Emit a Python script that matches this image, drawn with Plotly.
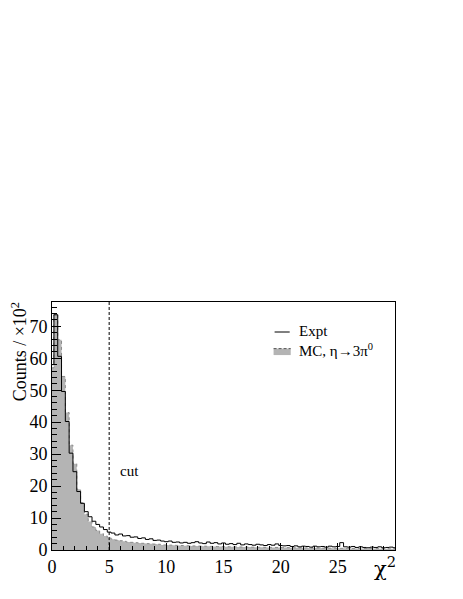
import numpy as np
import plotly.graph_objects as go

# Bin edges: a short first bin, then bins of width 1/3 (chi2 units)
bin_edges = np.concatenate([[0.0], np.arange(1 / 6, 30.2, 1 / 3)])

# Counts in units of 10^2, one value per bin
expt_counts = [
    58, 73.6, 60.6, 49.6, 40.2, 30.3, 24.5, 18.3, 14.6, 12.0,
    10.4, 9.0, 8.0, 7.2, 6.4, 5.6, 5.3, 4.7, 5.0, 4.4,
    4.5, 4.0, 4.1, 3.6, 3.8, 3.3, 3.5, 3.0, 3.1, 2.8,
    2.6, 2.8, 2.4, 2.5, 2.2, 2.4, 2.1, 2.3, 2.6, 2.2,
    2.0, 2.5, 2.1, 2.3, 1.9, 2.2, 1.8, 2.0, 1.7, 2.1,
    1.6, 1.9, 1.7, 1.5, 1.8, 1.6, 1.4, 1.7, 1.5, 1.9,
    1.4, 1.3, 1.4, 1.1, 1.3, 1.0, 1.2, 1.1, 0.9, 1.2,
    1.0, 1.1, 0.9, 1.2, 1.0, 1.1, 2.3, 1.0, 0.9, 1.1,
    0.8, 1.0, 0.8, 0.7, 0.9, 0.8, 1.0, 0.7, 0.8, 0.9,
    0.7,
]

mc_counts = [
    57, 73.8, 65.8, 54.3, 43.0, 32.8, 27.0, 19.0, 14.8, 11.2,
    8.9, 7.2, 6.1, 5.1, 4.4, 3.8, 3.4, 3.1, 2.9, 2.7,
    2.5, 2.4, 2.3, 2.2, 2.1, 2.0, 1.95, 1.85, 1.8, 1.6,
    1.58, 1.52, 1.48, 1.44, 1.4, 1.36, 1.32, 1.28, 1.25, 1.22,
    1.19, 1.16, 1.13, 1.1, 1.07, 1.05, 1.02, 1.0, 0.98, 0.96,
    0.94, 0.92, 0.9, 0.88, 0.86, 0.85, 0.83, 0.82, 0.81, 0.8,
    0.78, 0.76, 0.74, 0.72, 0.7, 0.69, 0.67, 0.66, 0.64, 0.63,
    0.62, 0.6, 0.59, 0.57, 0.55, 0.54, 0.53, 0.52, 0.51, 0.5,
    0.49, 0.48, 0.47, 0.46, 0.45, 0.44, 0.43, 0.42, 0.41, 0.4,
    0.4,
]

x_ticks = [0, 5, 10, 15, 20, 25]
y_ticks = [0, 10, 20, 30, 40, 50, 60, 70]
cut_value = 5

SERIF = "Liberation Serif"

fig = go.Figure()

# MC histogram: grey fill with dotted outline
fig.add_trace(go.Scatter(
    x=bin_edges,
    y=mc_counts + [mc_counts[-1]],
    mode="lines",
    line=dict(shape="hv", color="#8a8a8a", width=1, dash="dot"),
    fill="tozeroy",
    fillcolor="#b4b4b4",
    showlegend=False,
))

# Experimental histogram: solid black step line
fig.add_trace(go.Scatter(
    x=bin_edges,
    y=expt_counts + [expt_counts[-1]],
    mode="lines",
    line=dict(shape="hv", color="black", width=1),
    showlegend=False,
))

# Cut line
fig.add_shape(
    type="line", xref="x", yref="y domain",
    x0=cut_value, x1=cut_value, y0=0, y1=1,
    line=dict(color="black", width=1, dash="3px,2px"),
)
fig.add_annotation(
    x=5.8, y=24.8, xref="x", yref="y", text="cut", showarrow=False,
    xanchor="left", yanchor="middle", font=dict(family=SERIF, size=15, color="black"),
)

# Hand-drawn legend
fig.add_shape(type="line", xref="paper", yref="paper",
              x0=0.649, x1=0.693, y0=0.879, y1=0.879,
              line=dict(color="black", width=1))
fig.add_shape(type="rect", xref="paper", yref="paper",
              x0=0.646, x1=0.696, y0=0.786, y1=0.812,
              fillcolor="#b4b4b4", line=dict(width=0))
fig.add_shape(type="line", xref="paper", yref="paper",
              x0=0.646, x1=0.696, y0=0.812, y1=0.812,
              line=dict(color="#555555", width=1, dash="3px,2px"))
fig.add_annotation(x=0.713, y=0.885, xref="paper", yref="paper", text="Expt",
                   showarrow=False, xanchor="left", yanchor="middle",
                   font=dict(family=SERIF, size=15, color="black"))
fig.add_annotation(x=0.713, y=0.805, xref="paper", yref="paper",
                   text="MC, η→3π<sup>0</sup>",
                   showarrow=False, xanchor="left", yanchor="middle",
                   font=dict(family=SERIF, size=15, color="black"))

# Axis titles (ROOT style: placed at the end of the axes)
fig.add_annotation(x=-0.096, y=1.005, xref="paper", yref="paper",
                   text="Counts / ×10<sup>2</sup>", textangle=-90,
                   showarrow=False, xanchor="center", yanchor="top",
                   font=dict(family=SERIF, size=18, color="black"))
fig.add_annotation(x=0.972, y=-0.07, xref="paper", yref="paper",
                   text="χ<sup>2</sup>", showarrow=False,
                   xanchor="center", yanchor="middle",
                   font=dict(family="DejaVu Serif", size=21, color="black"))

fig.update_xaxes(
    range=[0, 30], tickvals=x_ticks, ticks="inside", ticklen=7,
    tickcolor="black", tickwidth=1,
    minor=dict(dtick=1, tick0=0, ticks="inside", ticklen=4, tickcolor="black"),
    showline=True, linecolor="black", linewidth=1, mirror=True,
    showgrid=False, zeroline=False,
    tickfont=dict(family=SERIF, size=18, color="black"),
)
fig.update_yaxes(
    range=[0, 77.6], tickvals=y_ticks, ticks="inside", ticklen=9,
    tickcolor="black", tickwidth=1,
    minor=dict(dtick=2, tick0=0, ticks="inside", ticklen=5, tickcolor="black"),
    showline=True, linecolor="black", linewidth=1, mirror=True,
    showgrid=False, zeroline=False,
    tickfont=dict(family=SERIF, size=18, color="black"),
)

# The page adds an 8px body margin, so the figure is shrunk to fit
fig.update_layout(
    width=455, height=591,
    margin=dict(l=44, r=68, t=294, b=49),
    plot_bgcolor="white", paper_bgcolor="white",
    showlegend=False,
)

fig.write_html("out.html")
